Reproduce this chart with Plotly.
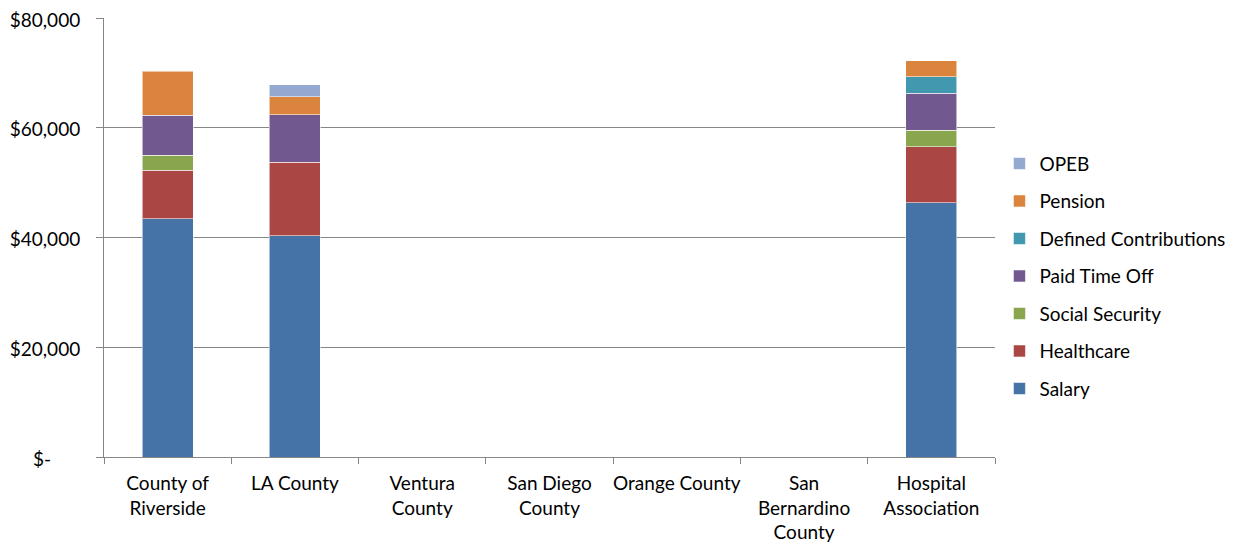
import plotly.graph_objects as go

categories = ["County of<br>Riverside", "LA County", "Ventura<br>County", "San Diego<br>County",
              "Orange County", "San<br>Bernardino<br>County", "Hospital<br>Association"]

salary = [43430, 40330, None, None, None, None, 46350]
healthcare = [8870, 13370, None, None, None, None, 10200]
social_security = [2680, None, None, None, None, None, 3040]
paid_time_off = [7340, 8630, None, None, None, None, 6740]
defined_contributions = [None, None, None, None, None, None, 2920]
pension = [8020, 3340, None, None, None, None, 2920]
opeb = [None, 2130, None, None, None, None, None]

series = [
    ("Salary", salary, "#4572A7"),
    ("Healthcare", healthcare, "#AA4643"),
    ("Social Security", social_security, "#89A54E"),
    ("Paid Time Off", paid_time_off, "#71588F"),
    ("Defined Contributions", defined_contributions, "#4198AF"),
    ("Pension", pension, "#DB843D"),
    ("OPEB", opeb, "#93A9CF"),
]

y_tickvals = [0, 20000, 40000, 60000, 80000]
y_ticktext = ["$-      ", "$20,000", "$40,000", "$60,000", "$80,000"]

fig = go.Figure()
n = len(series)
for i, (name, vals, color) in enumerate(series):
    fig.add_trace(go.Bar(
        x=categories, y=vals, name=name, legendgroup=name, legendrank=n - i,
        marker=dict(color=color, line=dict(color="rgba(255,255,255,0.55)", width=1)),
        width=0.4,
    ))

font = "Lato, Calibri, Carlito, sans-serif"
fig.update_layout(
    barmode="stack",
    width=1227, height=536,
    margin=dict(l=96, r=240, t=10, b=87, autoexpand=False),
    paper_bgcolor="white", plot_bgcolor="white",
    font=dict(family=font, size=19, color="#000000"),
    legend=dict(
        x=1.005, xanchor="left", y=0.412, yanchor="middle",
        traceorder="grouped", tracegroupgap=9.8,
        font=dict(family=font, size=19, color="#000000"),
        itemwidth=30,
    ),
    xaxis=dict(
        showline=True, linecolor="#868686", linewidth=1, automargin=False,
        ticks="outside", tickson="boundaries", ticklen=6, tickcolor="#868686",
        showgrid=False, tickfont=dict(family=font, size=19), tickangle=0,
        ticklabelstandoff=9, ticklabeloverflow="allow",
    ),
    yaxis=dict(
        range=[0, 80000], tickvals=y_tickvals, ticktext=y_ticktext, automargin=False,
        showline=True, linecolor="#868686", linewidth=1,
        ticks="outside", ticklen=7, tickcolor="#868686",
        showgrid=True, gridcolor="#868686", gridwidth=1,
        zeroline=False, tickfont=dict(family=font, size=19),
        ticklabelstandoff=12, ticklabeloverflow="allow", ticklabelshift=2,
    ),
)

fig.write_html("out.html")
